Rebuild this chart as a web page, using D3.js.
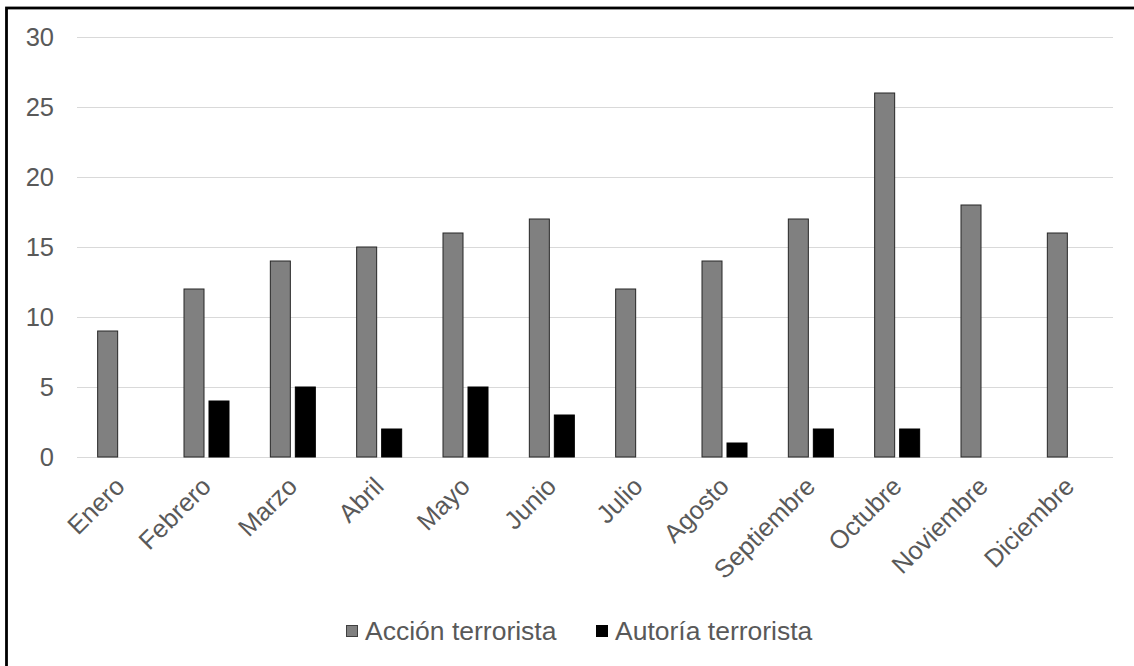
<!DOCTYPE html>
<html>
<head>
<meta charset="utf-8">
<script src="https://cdn.jsdelivr.net/npm/d3@7"></script>
<style>
  body { margin: 0; background: #fff; }
  svg { display: block; font-family: Arial, "Liberation Sans", sans-serif; }
</style>
</head>
<body>
<div id="chart"></div>
<script>
const months = ["Enero", "Febrero", "Marzo", "Abril", "Mayo", "Junio", "Julio",
    "Agosto", "Septiembre", "Octubre", "Noviembre", "Diciembre"];
const accion = [9, 12, 14, 15, 16, 17, 12, 14, 17, 26, 18, 16];
const autoria = [0, 4, 5, 2, 5, 3, 0, 1, 2, 2, 0, 0];
const seriesNames = ["Acción terrorista", "Autoría terrorista"];
const seriesColors = ["#808080", "#000000"];
const yTicks = [0, 5, 10, 15, 20, 25, 30];

const width = 1134, height = 666;
const margin = { left: 77, right: 21, top: 37, bottom: 209 };
const fontSize = 25.5;

const svg = d3.select("#chart").append("svg")
    .attr("width", width).attr("height", height);

// outer frame (right and bottom edges fall outside the picture)
svg.append("rect")
    .attr("x", 6.5).attr("y", 8).attr("width", width + 20).attr("height", height + 20)
    .attr("fill", "#fff").attr("stroke", "#000").attr("stroke-width", 2.8);

const x = d3.scaleBand()
    .domain(months)
    .range([margin.left, width - margin.right]);

const y = d3.scaleLinear()
    .domain([0, 30])
    .range([height - margin.bottom, margin.top]);

// gridlines
svg.append("g")
    .selectAll("line")
    .data(yTicks)
    .join("line")
    .attr("x1", margin.left).attr("x2", width - margin.right)
    .attr("y1", d => Math.round(y(d)) + 0.5).attr("y2", d => Math.round(y(d)) + 0.5)
    .attr("stroke", "#d9d9d9").attr("stroke-width", 1);

// y labels
svg.append("g")
    .selectAll("text")
    .data(yTicks)
    .join("text")
    .attr("x", 54).attr("y", d => y(d))
    .attr("dy", "0.36em")
    .attr("text-anchor", "end")
    .attr("font-size", fontSize)
    .attr("fill", "#595959")
    .text(d => d);

const barW = 20, gap = 5;
const data = months.map((m, i) => ({ m, vals: [accion[i], autoria[i]] }));

const groups = svg.append("g")
    .selectAll("g")
    .data(data)
    .join("g")
    .attr("transform", d => `translate(${x(d.m) + x.bandwidth() / 2},0)`);

groups.selectAll("rect")
    .data(d => d.vals.map((v, k) => ({ v, k })).filter(e => e.v > 0))
    .join("rect")
    .attr("x", e => e.k === 0 ? -gap / 2 - barW : gap / 2)
    .attr("width", barW)
    .attr("y", e => y(e.v))
    .attr("height", e => y(0) - y(e.v))
    .attr("fill", e => seriesColors[e.k])
    .attr("stroke", e => e.k === 0 ? "#262626" : "#000")
    .attr("stroke-width", 1);

// x labels
svg.append("g")
    .selectAll("text")
    .data(months)
    .join("text")
    .attr("transform", d => `translate(${x(d) + x.bandwidth() / 2 + 6},488) rotate(-45)`)
    .attr("text-anchor", "end")
    .attr("font-size", fontSize)
    .attr("fill", "#595959")
    .text(d => d);

// legend
const legendX = [346, 596];
const legend = svg.append("g")
    .selectAll("g")
    .data(seriesNames)
    .join("g")
    .attr("transform", (d, i) => `translate(${legendX[i]},631)`);

legend.append("rect")
    .attr("x", 0.5).attr("y", -5.5).attr("width", 11).attr("height", 11)
    .attr("fill", (d, i) => seriesColors[i])
    .attr("stroke", (d, i) => i === 0 ? "#404040" : "#000");

legend.append("text")
    .attr("x", 19).attr("y", 8.5)
    .attr("font-size", 26.5)
    .attr("fill", "#595959")
    .text(d => d);
</script>
</body>
</html>
